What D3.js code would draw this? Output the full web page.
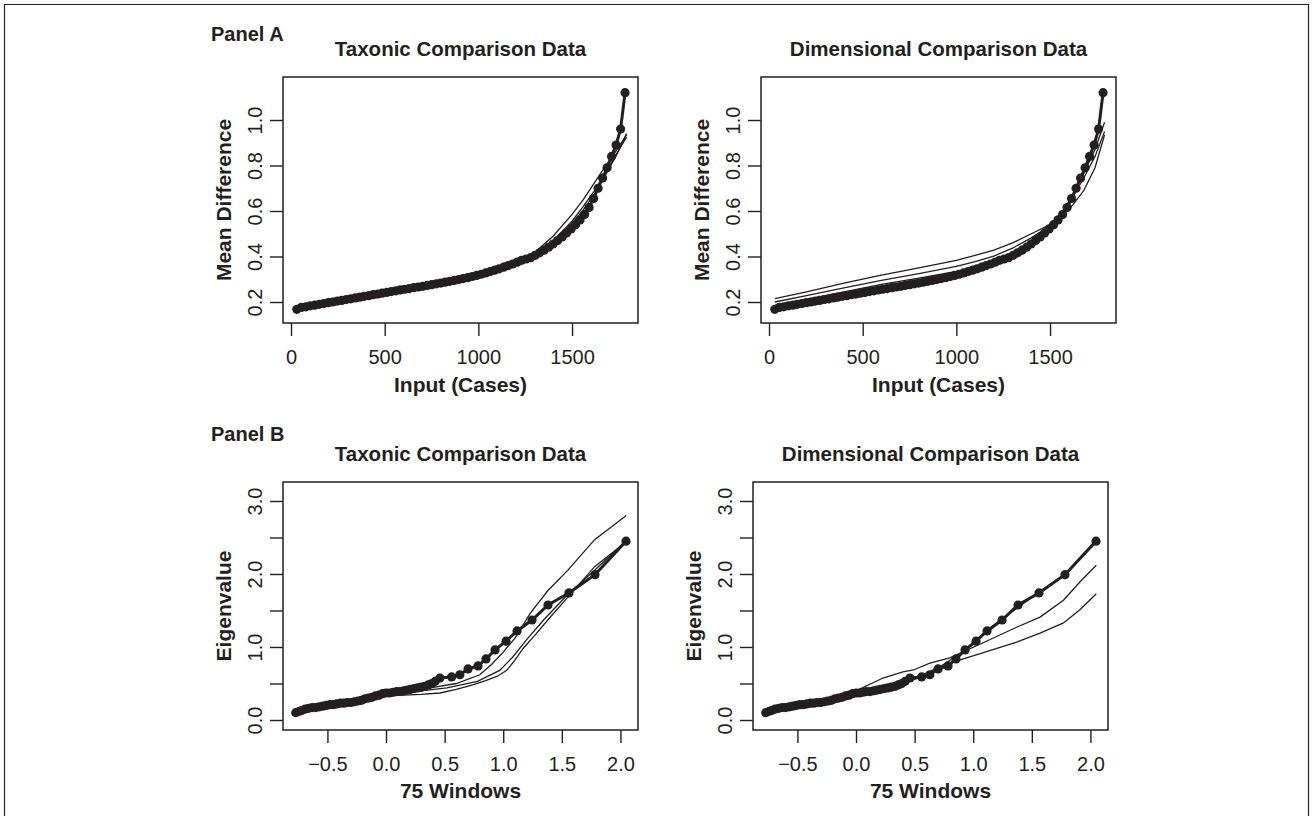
<!DOCTYPE html>
<html>
<head>
<meta charset="utf-8">
<script src="https://cdn.jsdelivr.net/npm/d3@7"></script>
<style>
	body { margin: 0; background: #fff; }
	text { font-family: "Liberation Sans", Arial, sans-serif; fill: #231f20; }
</style>
</head>
<body>
<svg id="fig" width="1313" height="816"></svg>
<script>
// ---- data ----
// Panel A: MAMBAC style, x = input cases
var casesX = [31, 55, 79, 103, 127, 151, 175, 199, 223, 247, 271, 295, 319, 343, 367, 391, 415, 439, 463, 487,
	511, 535, 559, 583, 607, 631, 655, 679, 703, 727, 751, 775, 799, 823, 847, 871, 895, 919, 943, 967,
	991, 1015, 1039, 1063, 1087, 1111, 1135, 1159, 1183, 1207, 1231, 1255, 1279, 1303, 1327, 1351, 1375, 1399, 1423, 1447,
	1471, 1495, 1519, 1543, 1567, 1591, 1615, 1639, 1663, 1687, 1711, 1735, 1759, 1783];
var meanDiff = [0.168, 0.176, 0.179, 0.183, 0.186, 0.190, 0.193, 0.197, 0.200, 0.204, 0.207, 0.211, 0.214, 0.218, 0.221, 0.225, 0.228, 0.232, 0.235, 0.239,
	0.242, 0.246, 0.249, 0.253, 0.256, 0.259, 0.263, 0.266, 0.269, 0.273, 0.276, 0.280, 0.283, 0.287, 0.291, 0.295, 0.299, 0.303, 0.307, 0.312,
	0.317, 0.322, 0.328, 0.334, 0.340, 0.346, 0.353, 0.360, 0.367, 0.375, 0.383, 0.389, 0.395, 0.405, 0.416, 0.428, 0.441, 0.455, 0.470, 0.486,
	0.503, 0.521, 0.540, 0.561, 0.585, 0.615, 0.655, 0.700, 0.745, 0.790, 0.840, 0.890, 0.960, 1.120];

// comparison curves (thin lines), panel A
var compCasesX = [31, 200, 400, 600, 800, 1000, 1100, 1200, 1300, 1400, 1500, 1560, 1620, 1680, 1740, 1791];
var taxA1 = [0.170, 0.198, 0.232, 0.265, 0.293, 0.322, 0.343, 0.372, 0.418, 0.490, 0.585, 0.650, 0.725, 0.800, 0.870, 0.935];
var taxA2 = [0.172, 0.196, 0.229, 0.262, 0.290, 0.318, 0.338, 0.365, 0.405, 0.470, 0.555, 0.620, 0.690, 0.770, 0.855, 0.925];
var taxA3 = [0.168, 0.194, 0.227, 0.260, 0.288, 0.316, 0.336, 0.362, 0.400, 0.462, 0.545, 0.605, 0.675, 0.760, 0.850, 0.940];
var dimA1 = [0.215, 0.245, 0.283, 0.318, 0.350, 0.383, 0.405, 0.428, 0.460, 0.500, 0.540, 0.575, 0.625, 0.690, 0.790, 0.935];
var dimA2 = [0.200, 0.228, 0.262, 0.295, 0.325, 0.357, 0.378, 0.402, 0.437, 0.482, 0.535, 0.590, 0.660, 0.745, 0.840, 0.950];
var dimA3 = [0.185, 0.212, 0.245, 0.277, 0.305, 0.335, 0.352, 0.376, 0.410, 0.462, 0.525, 0.585, 0.670, 0.765, 0.870, 0.990];

// Panel B: MAXEIG style, x = window means (75 windows)
var windowX = [-0.77, -0.74, -0.72, -0.69, -0.66, -0.63, -0.60, -0.57, -0.54, -0.51, -0.48, -0.45, -0.42, -0.39, -0.36, -0.33,
	-0.30, -0.27, -0.24, -0.21, -0.18, -0.15, -0.12, -0.09, -0.06, -0.03, 0.00, 0.03, 0.06, 0.09, 0.12, 0.15, 0.18, 0.21,
	0.24, 0.27, 0.30, 0.33, 0.36, 0.39, 0.42, 0.46, 0.56, 0.63, 0.70, 0.785, 0.853, 0.93, 1.024, 1.118, 1.246, 1.382,
	1.561, 1.783, 2.048];
var eigen = [0.10, 0.12, 0.13, 0.15, 0.16, 0.17, 0.17, 0.18, 0.19, 0.20, 0.21, 0.21, 0.22, 0.23, 0.23, 0.24,
	0.24, 0.25, 0.26, 0.27, 0.29, 0.30, 0.31, 0.33, 0.34, 0.36, 0.37, 0.37, 0.38, 0.39, 0.39, 0.40, 0.41, 0.42,
	0.43, 0.44, 0.45, 0.46, 0.48, 0.50, 0.53, 0.575, 0.59, 0.62, 0.70, 0.74, 0.836, 0.96, 1.08, 1.22, 1.37, 1.575,
	1.74, 1.99, 2.45];

var taxB1X = [-0.77, -0.5, -0.2, 0.0, 0.3, 0.6, 0.8, 0.9, 1.0, 1.1, 1.23, 1.38, 1.55, 1.78, 2.05];
var taxB1 = [0.10, 0.19, 0.27, 0.35, 0.42, 0.50, 0.62, 0.76, 0.93, 1.12, 1.46, 1.77, 2.05, 2.47, 2.80];
var taxB2X = [-0.77, -0.5, -0.2, 0.0, 0.3, 0.46, 0.6, 0.74, 0.85, 0.95, 1.03, 1.10, 1.17, 1.28, 1.38, 1.55, 1.78, 2.05];
var taxB2 = [0.09, 0.18, 0.26, 0.33, 0.35, 0.37, 0.42, 0.48, 0.54, 0.60, 0.68, 0.82, 0.98, 1.18, 1.37, 1.68, 2.10, 2.44];
var taxB3X = [-0.77, -0.5, -0.2, 0.0, 0.3, 0.52, 0.78, 0.97, 1.08, 1.2, 1.35, 1.55, 1.78, 2.05];
var taxB3 = [0.11, 0.20, 0.28, 0.35, 0.40, 0.44, 0.53, 0.68, 0.86, 1.10, 1.38, 1.72, 2.05, 2.46];

var dimB1X = [-0.77, -0.5, -0.2, 0.0, 0.23, 0.40, 0.49, 0.63, 0.80, 1.08, 1.37, 1.57, 1.77, 1.91, 2.05];
var dimB1 = [0.11, 0.20, 0.30, 0.40, 0.575, 0.66, 0.685, 0.78, 0.85, 1.055, 1.27, 1.41, 1.64, 1.89, 2.12];
var dimB2X = [-0.77, -0.5, -0.2, 0.0, 0.3, 0.5, 0.65, 0.80, 1.08, 1.37, 1.57, 1.77, 1.91, 2.05];
var dimB2 = [0.10, 0.18, 0.27, 0.35, 0.44, 0.57, 0.68, 0.78, 0.918, 1.068, 1.19, 1.33, 1.51, 1.73];
var dimB3X = [-0.77, -0.3, 0.0, 0.3, 0.6, 0.9, 1.2, 1.5, 1.8, 2.05];
var dimB3 = [0.10, 0.24, 0.37, 0.45, 0.61, 0.92, 1.33, 1.68, 2.02, 2.44];

var ticksA_x = [0, 500, 1000, 1500];
var ticksA_y = [0.2, 0.4, 0.6, 0.8, 1.0];
var ticksB_x = [-0.5, 0.0, 0.5, 1.0, 1.5, 2.0];
var ticksB_y = [0.0, 0.5, 1.0, 1.5, 2.0, 2.5, 3.0];
var labelsB_y = [0.0, 1.0, 2.0, 3.0];

var ink = "#231f20";
var svg = d3.select("#fig");

// outer frame
svg.append("path")
	.attr("d", "M4.5,830 L4.5,4.5 L1308.5,4.5 L1308.5,830")
	.attr("fill", "none").attr("stroke", ink).attr("stroke-width", 1.2);

function zip(xs, ys) {
	return xs.map(function(x, i) { return [x, ys[i]]; });
}

function drawPanel(p) {
	var x = d3.scaleLinear().domain(p.xdom).range([p.left, p.left + 355]);
	var y = d3.scaleLinear().domain(p.ydom).range([p.top + p.h, p.top]);
	var g = svg.append("g");

	// title
	g.append("text")
		.attr("x", p.left + 177.5).attr("y", p.top - 21)
		.attr("text-anchor", "middle")
		.style("font-size", "20.5px").style("font-weight", "bold")
		.text(p.title);

	// comparison lines
	var line = d3.line().x(function(d) { return x(d[0]); }).y(function(d) { return y(d[1]); });
	p.comps.forEach(function(c) {
		g.append("path").attr("d", line(c))
			.attr("fill", "none").attr("stroke", ink).attr("stroke-width", 1.3);
	});

	// main series
	g.append("path").attr("d", line(p.main))
		.attr("fill", "none").attr("stroke", ink).attr("stroke-width", 3);
	g.selectAll("circle.pt").data(p.main).enter().append("circle")
		.attr("class", "pt")
		.attr("cx", function(d) { return x(d[0]); })
		.attr("cy", function(d) { return y(d[1]); })
		.attr("r", 4.6)
		.attr("fill", ink);

	// box
	g.append("rect")
		.attr("x", p.left).attr("y", p.top).attr("width", 355).attr("height", p.h)
		.attr("fill", "none").attr("stroke", ink).attr("stroke-width", 1.5);

	// x axis
	var xa = g.append("g").attr("transform", "translate(0," + (p.top + p.h) + ")")
		.call(d3.axisBottom(x).tickValues(p.xt).tickSize(13).tickSizeOuter(0)
			.tickFormat(p.xfmt).tickPadding(14));
	// y axis
	var ya = g.append("g").attr("transform", "translate(" + p.left + ",0)")
		.call(d3.axisLeft(y).tickValues(p.yt).tickSize(13).tickSizeOuter(0).tickFormat(p.yfmt));
	[xa, ya].forEach(function(a) {
		a.select(".domain").remove();
		a.selectAll("line").attr("stroke", ink).attr("stroke-width", 1.4);
		a.selectAll("text").style("font-size", "20px").attr("fill", ink);
	});
	xa.selectAll("text").attr("dy", "0.71em");
	ya.selectAll(".tick text")
		.attr("x", null).attr("dy", null)
		.attr("text-anchor", "middle")
		.attr("transform", "translate(-21,0) rotate(-90)");

	// axis titles
	g.append("text")
		.attr("x", p.left + 177.5).attr("y", p.top + p.h + p.xlabOff)
		.attr("text-anchor", "middle")
		.style("font-size", "21px").style("font-weight", "bold")
		.text(p.xlab);
	g.append("text")
		.attr("transform", "translate(" + (p.left - 52) + "," + (p.top + p.h / 2) + ") rotate(-90)")
		.attr("text-anchor", "middle")
		.style("font-size", "21px").style("font-weight", "bold")
		.text(p.ylab);
}

var fmtA_x = function(d) { return d3.format("d")(d); };
var fmtA_y = function(d) { return d3.format(".1f")(d); };
var fmtB_x = function(d) { return d3.format(".1f")(d).replace("-", "\u2013"); };
var fmtB_y = function(d) { return labelsB_y.indexOf(d) >= 0 ? d3.format(".1f")(d) : ""; };

var mainA = zip(casesX, meanDiff);
var mainB = zip(windowX, eigen);

var panels = [
	{ title: "Taxonic Comparison Data", left: 283, top: 77, h: 246, xdom: [-42.7, 1852], ydom: [0.1077, 1.189],
		xt: ticksA_x, yt: ticksA_y, xfmt: fmtA_x, yfmt: fmtA_y, xlab: "Input (Cases)", ylab: "Mean Difference", xlabOff: 69,
		main: mainA, comps: [zip(compCasesX, taxA1), zip(compCasesX, taxA2), zip(compCasesX, taxA3)] },
	{ title: "Dimensional Comparison Data", left: 761, top: 77, h: 246, xdom: [-42.7, 1852], ydom: [0.1077, 1.189],
		xt: ticksA_x, yt: ticksA_y, xfmt: fmtA_x, yfmt: fmtA_y, xlab: "Input (Cases)", ylab: "Mean Difference", xlabOff: 69,
		main: mainA, comps: [zip(compCasesX, dimA1), zip(compCasesX, dimA2), zip(compCasesX, dimA3)] },
	{ title: "Taxonic Comparison Data", left: 283, top: 482, h: 248, xdom: [-0.879, 2.150], ydom: [-0.137, 3.26],
		xt: ticksB_x, yt: ticksB_y, xfmt: fmtB_x, yfmt: fmtB_y, xlab: "75 Windows", ylab: "Eigenvalue", xlabOff: 68,
		main: mainB, comps: [zip(taxB1X, taxB1), zip(taxB2X, taxB2), zip(taxB3X, taxB3)] },
	{ title: "Dimensional Comparison Data", left: 753, top: 482, h: 248, xdom: [-0.879, 2.150], ydom: [-0.137, 3.26],
		xt: ticksB_x, yt: ticksB_y, xfmt: fmtB_x, yfmt: fmtB_y, xlab: "75 Windows", ylab: "Eigenvalue", xlabOff: 68,
		main: mainB, comps: [zip(dimB1X, dimB1), zip(dimB2X, dimB2), zip(dimB3X, dimB3)] }
];
panels.forEach(drawPanel);

// panel labels
svg.append("text").attr("x", 211).attr("y", 41)
	.style("font-size", "20px").style("font-weight", "bold").text("Panel A");
svg.append("text").attr("x", 211).attr("y", 441)
	.style("font-size", "20px").style("font-weight", "bold").text("Panel B");
</script>
</body>
</html>
